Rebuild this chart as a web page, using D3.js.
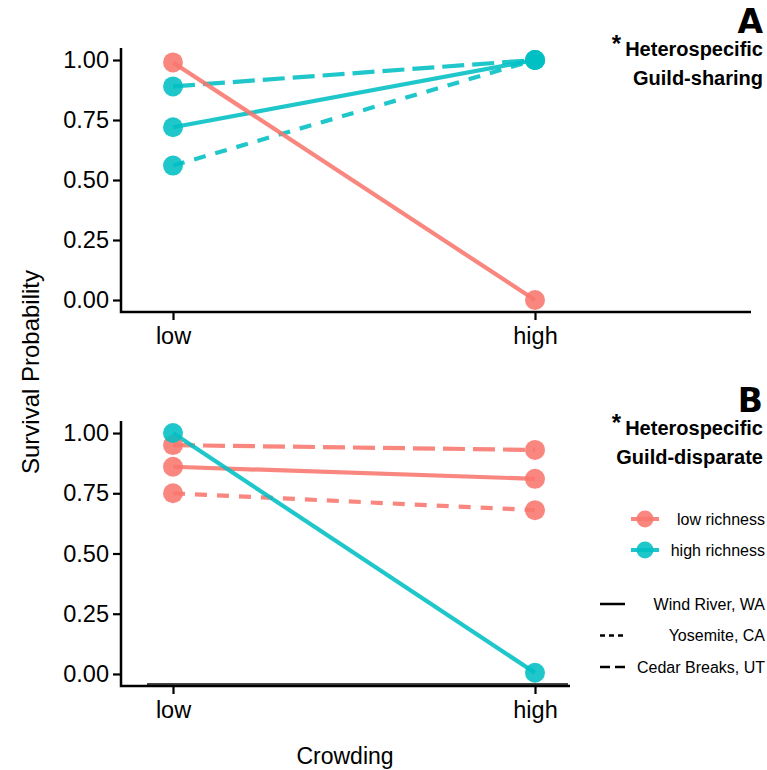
<!DOCTYPE html>
<html>
<head>
<meta charset="utf-8">
<script src="https://cdn.jsdelivr.net/npm/d3@7"></script>
<style>
  body { margin: 0; background: #fff; }
  svg { font-family: "Liberation Sans", Arial, sans-serif; }
</style>
</head>
<body>
<div id="chart"></div>
<script>
(function(d3) {
    'use strict';

    // Data
    var crowding = ['low', 'high'];
    var yTicks = [0, 0.25, 0.5, 0.75, 1];

    // panel A: guild-sharing
    var sharingLowWind = [0.99, 0.00];
    var sharingHighWind = [0.72, 1.00];
    var sharingHighYosemite = [0.56, 1.00];
    var sharingHighCedar = [0.89, 1.00];

    // panel B: guild-disparate
    var disparateLowWind = [0.86, 0.81];
    var disparateLowYosemite = [0.75, 0.68];
    var disparateLowCedar = [0.95, 0.93];
    var disparateHighWind = [1.00, 0.005];

    var richnessLabels = ['low richness', 'high richness'];
    var siteLabels = ['Wind River, WA', 'Yosemite, CA', 'Cedar Breaks, UT'];

    var colors = {low: '#F8766D', high: '#00BFC4'};
    var dashes = {'Wind River, WA': null, 'Yosemite, CA': '12,10', 'Cedar Breaks, UT': '22,8'};

    var width = 767, height = 770;
    var font = '"Liberation Sans", Arial, sans-serif';

    var svg = d3.select('#chart').append('svg')
        .attr('width', width)
        .attr('height', height);

    var x = d3.scalePoint().domain(crowding).range([173, 535]);

    var panels = [
        {
            letter: 'A', sub: 'Guild-sharing', top: 48, bottom: 312, axisEnd: 751, letterY: 33,
            series: [
                {richness: 'high', site: 'Cedar Breaks, UT', values: sharingHighCedar},
                {richness: 'high', site: 'Yosemite, CA', values: sharingHighYosemite},
                {richness: 'high', site: 'Wind River, WA', values: sharingHighWind},
                {richness: 'low', site: 'Wind River, WA', values: sharingLowWind}
            ]
        },
        {
            letter: 'B', sub: 'Guild-disparate', top: 421, bottom: 686, axisEnd: 570, letterY: 412,
            series: [
                {richness: 'low', site: 'Cedar Breaks, UT', values: disparateLowCedar},
                {richness: 'low', site: 'Wind River, WA', values: disparateLowWind},
                {richness: 'low', site: 'Yosemite, CA', values: disparateLowYosemite},
                {richness: 'high', site: 'Wind River, WA', values: disparateHighWind}
            ]
        }
    ];

    panels.forEach(function(p, idx) {
        var y = d3.scaleLinear().domain([-0.05, 1.05]).range([p.bottom, p.top]);
        var g = svg.append('g');

        // grey reference line in panel B
        if (idx === 1) {
            g.append('line')
                .attr('x1', x('low') - 26).attr('x2', x('high') + 33)
                .attr('y1', y(0) + 10).attr('y2', y(0) + 10)
                .attr('stroke', '#444').attr('stroke-width', 2);
        }

        // axes
        var yAxis = g.append('g')
            .attr('transform', 'translate(121,0)')
            .call(d3.axisLeft(y).tickValues(yTicks).tickFormat(d3.format('.2f')).tickSize(8).tickPadding(4));
        yAxis.select('.domain').remove();
        yAxis.selectAll('.tick line').attr('stroke', '#000').attr('stroke-width', 2.2);
        yAxis.selectAll('.tick text').attr('font-size', 23.5).attr('fill', '#000')
            .attr('font-family', font);

        var xAxis = g.append('g')
            .attr('transform', 'translate(0,' + p.bottom + ')')
            .call(d3.axisBottom(x).tickSize(8).tickPadding(7));
        xAxis.select('.domain').remove();
        xAxis.selectAll('.tick line').attr('stroke', '#000').attr('stroke-width', 2.2);
        xAxis.selectAll('.tick text').attr('font-size', 23.5).attr('fill', '#000')
            .attr('font-family', font);

        g.append('path')
            .attr('d', 'M121,' + p.top + 'V' + p.bottom + 'H' + p.axisEnd)
            .attr('fill', 'none').attr('stroke', '#000').attr('stroke-width', 2.5);

        // lines
        var line = d3.line()
            .x(function(d, i) { return x(crowding[i]); })
            .y(function(d) { return y(d); });

        p.series.forEach(function(s) {
            g.append('path')
                .datum(s.values)
                .attr('d', line)
                .attr('fill', 'none')
                .attr('stroke', colors[s.richness])
                .attr('stroke-width', 4.2)
                .attr('stroke-dasharray', dashes[s.site])
                .attr('opacity', 0.88);
        });
        p.series.forEach(function(s) {
            g.selectAll(null)
                .data(s.values)
                .enter().append('circle')
                .attr('cx', function(d, i) { return x(crowding[i]); })
                .attr('cy', function(d) { return y(d); })
                .attr('r', 10)
                .attr('fill', colors[s.richness])
                .attr('opacity', 0.88);
        });

        // panel labels
        g.append('text')
            .attr('x', 763).attr('y', p.letterY)
            .attr('text-anchor', 'end')
            .attr('font-size', 33).attr('font-weight', 900)
            .attr('font-family', '"DejaVu Sans", Arial, sans-serif')
            .text(p.letter);
        var t = g.append('text')
            .attr('x', 763).attr('y', p.letterY + 23)
            .attr('text-anchor', 'end')
            .attr('font-size', 20).attr('font-weight', 'bold');
        t.append('tspan').attr('font-size', 24).attr('dy', -4).text('*');
        t.append('tspan').attr('dy', 4).attr('dx', 4).text('Heterospecific');
        g.append('text')
            .attr('x', 763).attr('y', p.letterY + 52)
            .attr('text-anchor', 'end')
            .attr('font-size', 20).attr('font-weight', 'bold')
            .text(p.sub);
    });

    // axis titles
    svg.append('text')
        .attr('transform', 'translate(39,372) rotate(-90)')
        .attr('text-anchor', 'middle')
        .attr('font-size', 24)
        .text('Survival Probability');
    svg.append('text')
        .attr('x', 345).attr('y', 764)
        .attr('text-anchor', 'middle')
        .attr('font-size', 23)
        .text('Crowding');

    // legend: richness
    var legend = svg.append('g');
    richnessLabels.forEach(function(lab, i) {
        var key = i === 0 ? 'low' : 'high';
        var ly = 519 + i * 31;
        legend.append('line')
            .attr('x1', 631).attr('x2', 659).attr('y1', ly).attr('y2', ly)
            .attr('stroke', colors[key]).attr('stroke-width', 4).attr('opacity', 0.88);
        legend.append('circle')
            .attr('cx', 645).attr('cy', ly).attr('r', 8.5)
            .attr('fill', colors[key]).attr('opacity', 0.88);
        legend.append('text')
            .attr('x', 765).attr('y', ly + 5.5)
            .attr('text-anchor', 'end')
            .attr('font-size', 16)
            .text(lab);
    });

    // legend: site linetype
    siteLabels.forEach(function(lab, i) {
        var ly = 604 + i * 31.5;
        legend.append('line')
            .attr('x1', 600).attr('x2', 625).attr('y1', ly).attr('y2', ly)
            .attr('stroke', '#000').attr('stroke-width', 2.5)
            .attr('stroke-dasharray', i === 0 ? null : (i === 1 ? '5,4' : '10,5'));
        legend.append('text')
            .attr('x', 765).attr('y', ly + 5.5)
            .attr('text-anchor', 'end')
            .attr('font-size', 16)
            .text(lab);
    });
}(d3));
</script>
</body>
</html>
